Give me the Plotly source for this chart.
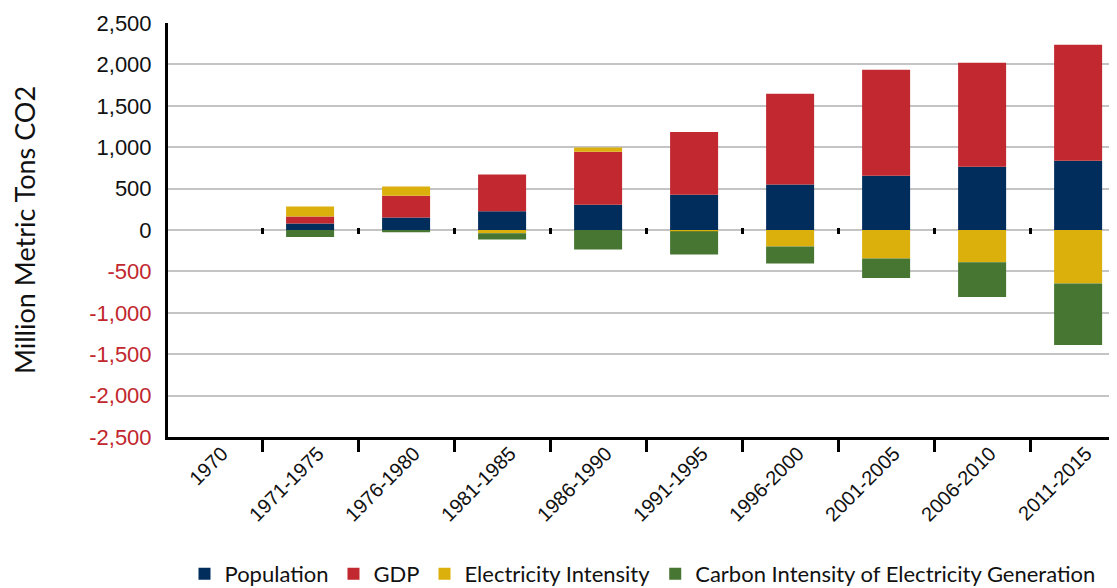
import plotly.graph_objects as go

categories = ["1970", "1971-1975", "1976-1980", "1981-1985", "1986-1990",
              "1991-1995", "1996-2000", "2001-2005", "2006-2010", "2011-2015"]
population = [0, 78, 150, 225, 305, 425, 550, 655, 765, 837]
gdp = [0, 85, 265, 445, 640, 760, 1095, 1280, 1255, 1400]
electricity_intensity = [0, 120, 110, -40, 50, -15, -200, -345, -390, -645]
carbon_intensity = [0, -86, -26, -75, -235, -280, -205, -235, -420, -745]

series_names = ["Population", "GDP", "Electricity Intensity",
                "Carbon Intensity of Electricity Generation"]
series_values = [population, gdp, electricity_intensity, carbon_intensity]
colors = ["#002d5c", "#c1282f", "#dcb00c", "#467632"]

y_ticks = [2500, 2000, 1500, 1000, 500, 0, -500, -1000, -1500, -2000, -2500]


def fmt(v):
    s = f"{abs(v):,}"
    if v < 0:
        return f'<span style="color:#c1272d">-{s}</span>'
    return s


fig = go.Figure()
for name, vals, col in zip(series_names, series_values, colors):
    fig.add_trace(go.Bar(x=categories, y=vals, name=name,
                         marker=dict(color=col, line=dict(width=0))))

# helper invisible trace for zero-line boundary ticks axis
fig.add_trace(go.Scatter(x=categories, y=[0] * len(categories), xaxis="x2",
                         mode="markers", marker=dict(opacity=0),
                         showlegend=False, hoverinfo="skip"))

tickfam = "Liberation Sans, Arial, sans-serif"
textfam = "Lato, sans-serif"

fig.update_layout(
    width=1109, height=580,
    margin=dict(l=160, r=0, t=15, b=151, autoexpand=False),
    paper_bgcolor="white", plot_bgcolor="white",
    barmode="relative", bargap=0.5,
    font=dict(family=textfam, color="#111111"),
    xaxis=dict(
        type="category", categoryorder="array", categoryarray=categories,
        range=[-0.48, 9.405], tickson="boundaries",
        ticks="outside", ticklen=12, tickwidth=3, tickcolor="black",
        showline=True, linecolor="black", linewidth=3,
        showgrid=False, zeroline=False, automargin=False,
        tickangle=-45, ticklabelshift=8, ticklabelstandoff=-6,
        tickfont=dict(family=tickfam, size=20, color="#111111"),
    ),
    xaxis2=dict(
        type="category", categoryorder="array", categoryarray=categories,
        range=[-0.48, 9.405], tickson="boundaries", overlaying="x",
        anchor="free", position=0.508, side="bottom",
        ticks="outside", ticklen=6, tickwidth=3, tickcolor="black",
        showticklabels=False, showline=False, showgrid=False, zeroline=False,
    ),
    yaxis=dict(
        range=[-2500, 2500], tickvals=y_ticks, ticktext=[fmt(v) for v in y_ticks],
        showgrid=True, gridcolor="#c4c4c4", gridwidth=2,
        zeroline=True, zerolinecolor="#c4c4c4", zerolinewidth=2,
        showline=True, linecolor="black", linewidth=3,
        ticks="", ticklabelstandoff=9, automargin=False,
        tickfont=dict(family=tickfam, size=22, color="#111111"),
        title=dict(text="Million Metric Tons CO2", standoff=47,
                   font=dict(family=textfam, size=27, color="#111111")),
    ),
    legend=dict(orientation="h", x=0.5, xanchor="center", y=-0.331,
                yanchor="middle", font=dict(family=textfam, size=22,
                                            color="#111111"),
                itemwidth=30, tracegroupgap=0, traceorder="normal"),
    showlegend=True,
)

fig.write_html("out.html")
